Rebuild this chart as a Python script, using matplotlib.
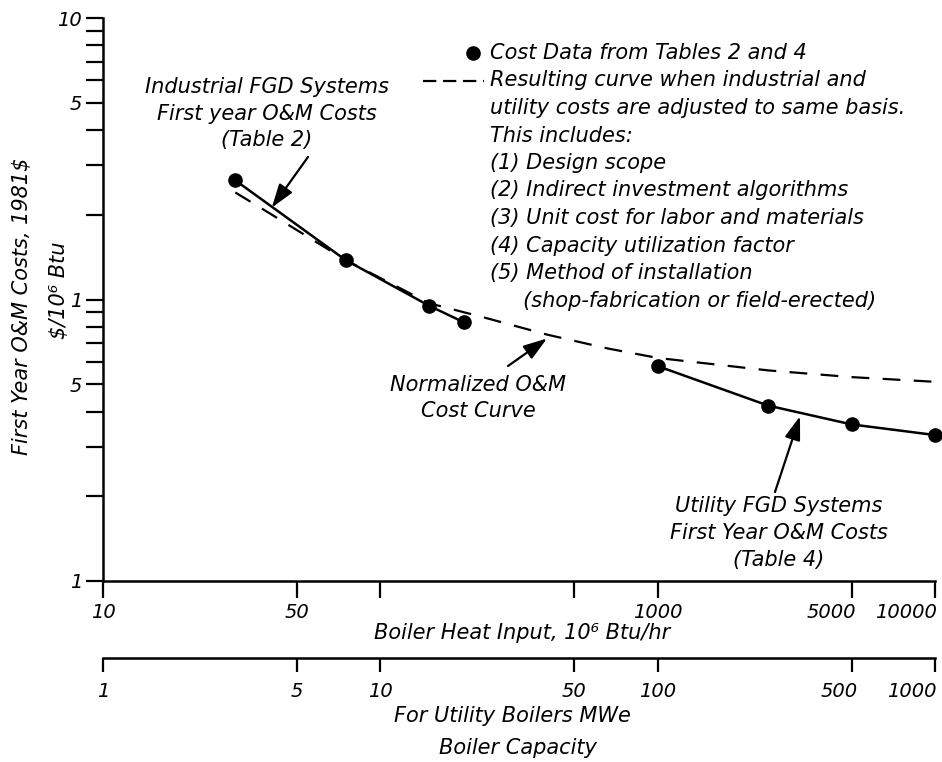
import matplotlib
matplotlib.use("Agg")
import matplotlib.pyplot as plt
import matplotlib.transforms as mtransforms
from matplotlib.ticker import FixedLocator, FixedFormatter, NullLocator
from matplotlib.lines import Line2D

# ---------------- data ----------------
ind_x = [30, 75, 150, 200]            # industrial FGD, 10^6 Btu/hr
ind_y = [2.65, 1.38, 0.95, 0.83]      # $/10^6 Btu
util_x = [1000, 2500, 5000, 10000]    # utility FGD
util_y = [0.58, 0.42, 0.36, 0.33]
norm_x = [30, 40, 75, 150, 240, 400, 660, 1000, 2500, 5000, 10000]
norm_y = [2.4, 2.02, 1.38, 0.97, 0.86, 0.75, 0.67, 0.62, 0.56, 0.53, 0.51]

x_ticks = [10, 50, 100, 500, 1000, 5000, 10000]
x_labels = ["10", "50", "", "", "1000", "5000", "10000"]
mwe_ticks = [1, 5, 10, 50, 100, 500, 1000]
mwe_labels = ["1", "5", "10", "50", "100", "500", "1000"]
y_ticks = [0.1, 0.5, 1, 5, 10]
y_labels = ["1", "5", "1", "5", "10"]
y_minor = [0.2, 0.3, 0.4, 0.6, 0.7, 0.8, 0.9, 2, 3, 4, 6, 7, 8, 9]

legend_lines = [
    "Resulting curve when industrial and",
    "utility costs are adjusted to same basis.",
    "This includes:",
    "(1) Design scope",
    "(2) Indirect investment algorithms",
    "(3) Unit cost for labor and materials",
    "(4) Capacity utilization factor",
    "(5) Method of installation",
    "     (shop-fabrication or field-erected)",
]

W, H = 942, 762
def fx(px):
    return px / W
def fy(py):
    return 1 - py / H

FS = 15
TXT = dict(fontstyle="italic", fontsize=FS, color="black", family="DejaVu Sans")

fig = plt.figure(figsize=(W / 100, H / 100), dpi=100)
fig.patch.set_facecolor("white")

def shift_label(tick, dx_px, ha=None):
    off = mtransforms.ScaledTranslation(dx_px / 100, 0, fig.dpi_scale_trans)
    tick.label1.set_transform(tick.label1.get_transform() + off)
    if ha:
        tick.label1.set_horizontalalignment(ha)

ax = fig.add_axes([fx(103), fy(581), (935 - 103) / W, (581 - 18) / H])
ax.set_xscale("log")
ax.set_yscale("log")
ax.set_xlim(10, 10000)
ax.set_ylim(0.1, 10)
for s in ["top", "right"]:
    ax.spines[s].set_visible(False)
for s in ["left", "bottom"]:
    ax.spines[s].set_linewidth(1.8)

ax.xaxis.set_major_locator(FixedLocator(x_ticks))
ax.xaxis.set_major_formatter(FixedFormatter(x_labels))
ax.xaxis.set_minor_locator(NullLocator())
ax.yaxis.set_major_locator(FixedLocator(y_ticks))
ax.yaxis.set_major_formatter(FixedFormatter(y_labels))
ax.yaxis.set_minor_locator(FixedLocator(y_minor))
ax.yaxis.set_minor_formatter(FixedFormatter([""] * len(y_minor)))
ax.tick_params(axis="both", which="both", direction="out", length=12, width=1.6)
ax.tick_params(axis="x", pad=4, labelsize=14)
ax.tick_params(axis="y", pad=3, labelsize=14)
for lab in ax.get_xticklabels() + ax.get_yticklabels():
    lab.set_fontstyle("italic")
xt = ax.xaxis.get_major_ticks()
shift_label(xt[5], -20)
shift_label(xt[6], 2, "right")

# curves and points
ax.plot(norm_x, norm_y, color="black", lw=1.6, dashes=(8, 6), clip_on=False)
ax.plot(ind_x, ind_y, color="black", lw=1.8, clip_on=False)
ax.plot(util_x, util_y, color="black", lw=1.8, clip_on=False)
ax.plot(ind_x + util_x, ind_y + util_y, "o", color="black", ms=9.5, clip_on=False)

# annotations with arrows
arrow = dict(arrowstyle="-|>,head_length=0.9,head_width=0.3", color="black",
             lw=1.6, mutation_scale=16, shrinkA=0, shrinkB=0)
ax.annotate("", xy=(40.6, 2.12), xytext=(fx(308), fy(157)),
            textcoords="figure fraction", arrowprops=arrow)
ax.annotate("", xy=(399, 0.727), xytext=(fx(508), fy(366)),
            textcoords="figure fraction", arrowprops=arrow)
ax.annotate("", xy=(3260, 0.385), xytext=(fx(775), fy(492)),
            textcoords="figure fraction", arrowprops=arrow)

fig.text(fx(267), fy(87), "Industrial FGD Systems", ha="center", va="center", **TXT)
fig.text(fx(267), fy(114), "First year O&M Costs", ha="center", va="center", **TXT)
fig.text(fx(267), fy(140), "(Table 2)", ha="center", va="center", **TXT)

fig.text(fx(478), fy(385), "Normalized O&M", ha="center", va="center", **TXT)
fig.text(fx(478), fy(411), "Cost Curve", ha="center", va="center", **TXT)

fig.text(fx(779), fy(506), "Utility FGD Systems", ha="center", va="center", **TXT)
fig.text(fx(779), fy(533), "First Year O&M Costs", ha="center", va="center", **TXT)
fig.text(fx(779), fy(560), "(Table 4)", ha="center", va="center", **TXT)

# legend (manual layout)
LY0, LDY = 53, 27.5
fig.add_artist(Line2D([fx(473)], [fy(LY0)], marker="o", ms=9.5, color="black"))
fig.text(fx(490), fy(LY0), "Cost Data from Tables 2 and 4", ha="left", va="center", **TXT)
fig.add_artist(Line2D([fx(423), fx(484)], [fy(LY0 + LDY)] * 2, color="black",
                      lw=1.6, dashes=(6, 3)))
for i, line in enumerate(legend_lines):
    fig.text(fx(490), fy(LY0 + LDY * (i + 1)), line, ha="left", va="center", **TXT)

# axis titles
fig.text(fx(22), fy(306), "First Year O&M Costs, 1981$", rotation=90,
         ha="center", va="center", parse_math=False, **TXT)
fig.text(fx(59), fy(290), "$/10\u2076 Btu", rotation=90,
         ha="center", va="center", parse_math=False, **TXT)
fig.text(fx(522), fy(633), "Boiler Heat Input, 10\u2076 Btu/hr",
         ha="center", va="center", **TXT)

# second (MWe) axis
ax2 = fig.add_axes([fx(103), fy(658), (935 - 103) / W, 0.0001])
ax2.set_xscale("log")
ax2.set_xlim(1, 1000)
ax2.patch.set_visible(False)
for s in ["top", "right", "left"]:
    ax2.spines[s].set_visible(False)
ax2.spines["bottom"].set_linewidth(1.8)
ax2.set_yticks([])
ax2.xaxis.set_major_locator(FixedLocator(mwe_ticks))
ax2.xaxis.set_major_formatter(FixedFormatter(mwe_labels))
ax2.xaxis.set_minor_locator(NullLocator())
ax2.tick_params(axis="x", direction="out", length=10, width=1.6, pad=7, labelsize=14)
for lab in ax2.get_xticklabels():
    lab.set_fontstyle("italic")
mt = ax2.xaxis.get_major_ticks()
shift_label(mt[5], -12)
shift_label(mt[6], 2, "right")

fig.text(fx(512), fy(716), "For Utility Boilers MWe", ha="center", va="center", **TXT)
fig.text(fx(518), fy(748), "Boiler Capacity", ha="center", va="center", **TXT)

fig.savefig("out.png", dpi=100)
